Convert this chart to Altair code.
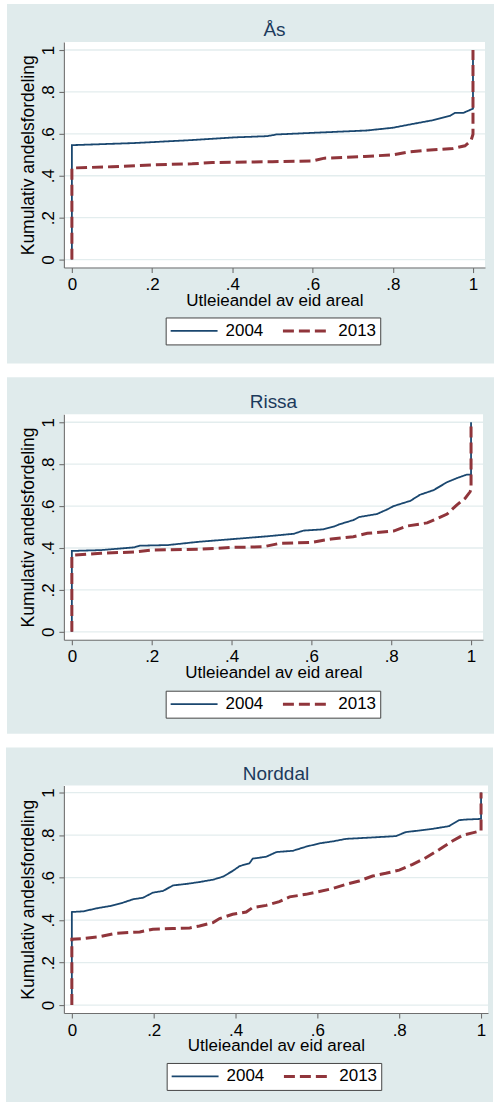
import altair as alt
import pandas as pd

FONT = "Liberation Sans"
BG = "#e0ebec"
GRID = "#e3edee"
AXIS = "#6f6f6f"
TITLE_COLOR = "#1c3a5c"

YEARS = ["2004", "2013"]
LINE_COLORS = ["#1a476f", "#90353b"]
LINE_WIDTHS = [1.8, 3.0]
LINE_DASHES = [[1, 0], [11, 5]]

TICKS = [0, 0.2, 0.4, 0.6, 0.8, 1]
TICK_TEXT = ["0", ".2", ".4", ".6", ".8", "1"]

X_TITLE = "Utleieandel av eid areal"
Y_TITLE = "Kumulativ andelsfordeling"

# --- Ås -------------------------------------------------------------------
aas_x_2004 = [0, 0, 0.155, 0.296, 0.404, 0.487, 0.51, 0.603, 0.735, 0.80, 0.852,
              0.90, 0.943, 0.955, 0.976, 1.0, 1.0]
aas_y_2004 = [0, 0.546, 0.556, 0.570, 0.583, 0.589, 0.597, 0.605, 0.616, 0.629, 0.648,
              0.665, 0.686, 0.70, 0.70, 0.72, 1.0]
aas_x_2013 = [0, 0, 0.1, 0.2, 0.3, 0.35, 0.5, 0.6, 0.63, 0.73, 0.8, 0.84, 0.88,
              0.95, 0.98, 0.995, 1.0, 1.0]
aas_y_2013 = [0, 0.437, 0.443, 0.452, 0.457, 0.463, 0.467, 0.471, 0.484, 0.492, 0.50,
              0.514, 0.521, 0.53, 0.543, 0.567, 0.598, 1.0]

# --- Rissa -----------------------------------------------------------------
rissa_x_2004 = [0, 0, 0.0725, 0.156, 0.17, 0.24, 0.32, 0.406, 0.49, 0.556, 0.58, 0.63,
                0.656, 0.67, 0.705, 0.72, 0.764, 0.79, 0.806, 0.848, 0.872, 0.906,
                0.94, 0.964, 0.989, 1.0, 1.0]
rissa_y_2004 = [0, 0.386, 0.39, 0.403, 0.411, 0.414, 0.43, 0.443, 0.456, 0.468, 0.483,
                0.489, 0.502, 0.513, 0.533, 0.548, 0.562, 0.584, 0.60, 0.625, 0.654,
                0.676, 0.714, 0.733, 0.75, 0.75, 1.0]
rissa_x_2013 = [0, 0, 0.0725, 0.156, 0.2, 0.32, 0.406, 0.48, 0.52, 0.6, 0.65, 0.705,
                0.74, 0.806, 0.84, 0.89, 0.906, 0.94, 0.964, 0.985, 0.9975, 1.0, 1.0]
rissa_y_2013 = [0, 0.365, 0.375, 0.381, 0.39, 0.394, 0.403, 0.406, 0.422, 0.427, 0.443,
                0.454, 0.47, 0.481, 0.505, 0.52, 0.533, 0.562, 0.605, 0.637, 0.668,
                0.68, 1.0]

# --- Norddal ---------------------------------------------------------------
norddal_x_2004 = [0, 0, 0.028, 0.06, 0.093, 0.125, 0.15, 0.174, 0.198, 0.223, 0.247,
                  0.28, 0.312, 0.345, 0.369, 0.393, 0.41, 0.434, 0.442, 0.475, 0.5,
                  0.54, 0.572, 0.605, 0.637, 0.67, 0.719, 0.792, 0.816, 0.857, 0.881,
                  0.922, 0.946, 0.963, 1.0, 1.0]
norddal_y_2004 = [0, 0.438, 0.441, 0.455, 0.466, 0.482, 0.498, 0.505, 0.529, 0.537,
                  0.563, 0.57, 0.579, 0.59, 0.604, 0.631, 0.654, 0.667, 0.689, 0.698,
                  0.72, 0.726, 0.745, 0.761, 0.77, 0.782, 0.787, 0.795, 0.814, 0.823,
                  0.829, 0.842, 0.87, 0.873, 0.876, 1.0]
norddal_x_2013 = [0, 0, 0.028, 0.068, 0.109, 0.166, 0.198, 0.247, 0.288, 0.312, 0.345,
                  0.361, 0.393, 0.426, 0.442, 0.475, 0.507, 0.532, 0.572, 0.605, 0.637,
                  0.67, 0.702, 0.735, 0.767, 0.8, 0.833, 0.865, 0.898, 0.93, 0.954,
                  0.979, 0.995, 1.0, 1.0]
norddal_y_2013 = [0, 0.31, 0.313, 0.322, 0.338, 0.344, 0.357, 0.36, 0.363, 0.372,
                  0.388, 0.407, 0.427, 0.438, 0.459, 0.469, 0.487, 0.509, 0.521, 0.534,
                  0.548, 0.568, 0.584, 0.607, 0.62, 0.635, 0.662, 0.693, 0.732, 0.772,
                  0.798, 0.81, 0.818, 0.82, 1.0]

# tick labels in Stata style: "0", ".2", ..., "1"
LABEL_EXPR = " : ".join(
    f"datum.value == {v} ? '{t}'" for v, t in zip(TICKS, TICK_TEXT)
) + " : ''"


def curve_frame(series):
    rows = []
    for year, (xs, ys) in zip(YEARS, series):
        for i, (x, y) in enumerate(zip(xs, ys)):
            rows.append({"x": x, "y": y, "year": year, "i": i})
    return pd.DataFrame(rows)


def panel(name, series, w, h, xdom, ydom, frame, legend_pos):
    # frame = (left, right, top, bottom) extent of the grey panel around the plot
    x_enc = alt.X(
        "x:Q",
        scale=alt.Scale(domain=xdom, nice=False, zero=False),
        axis=alt.Axis(
            values=TICKS, labelExpr=LABEL_EXPR, grid=False, zindex=1,
            domainColor=AXIS, tickColor=AXIS, tickSize=5, domainWidth=1.1, tickWidth=1.1,
            labelFont=FONT, labelFontSize=17, labelColor="black", labelPadding=4,
            labelFlush=False, labelOverlap=False,
            title=X_TITLE, titleFont=FONT, titleFontSize=17, titleFontWeight="normal",
            titleColor="black", titleBaseline="alphabetic", titleAlign="center",
            titleX=w / 2, titleY=38,
        ),
    )
    y_enc = alt.Y(
        "y:Q",
        scale=alt.Scale(domain=ydom, nice=False, zero=False),
        axis=alt.Axis(
            values=TICKS, labelExpr=LABEL_EXPR, grid=False, zindex=1,
            domainColor=AXIS, tickColor=AXIS, tickSize=5, domainWidth=1.1, tickWidth=1.1,
            labelFont=FONT, labelFontSize=17, labelColor="black", labelPadding=5,
            labelAngle=270, labelAlign="center", labelBaseline="alphabetic",
            labelFlush=False, labelOverlap=False,
            title=Y_TITLE, titleFont=FONT, titleFontSize=17.5, titleFontWeight="normal",
            titleColor="black", titleAngle=270, titleAlign="center",
            titleBaseline="alphabetic", titleX=-30, titleY=h / 2,
        ),
    )

    one = pd.DataFrame({"k": [0]})
    left, right, top, bottom = frame
    backdrop = alt.Chart(one).mark_rect(color=BG).encode(
        x=alt.value(left), x2=alt.value(right), y=alt.value(top), y2=alt.value(bottom)
    )
    plot_bg = alt.Chart(one).mark_rect(color="white").encode(
        x=alt.value(0), x2=alt.value(w), y=alt.value(0), y2=alt.value(h)
    )
    grid = alt.Chart(pd.DataFrame({"y": TICKS})).mark_rule(
        color=GRID, strokeWidth=1.3
    ).encode(y=y_enc)

    lines = alt.Chart(curve_frame(series)).mark_line(strokeCap="butt").encode(
        x=x_enc,
        y=y_enc,
        order=alt.Order("i:Q"),
        color=alt.Color(
            "year:N",
            scale=alt.Scale(domain=YEARS, range=LINE_COLORS),
            legend=alt.Legend(
                orient="none", legendX=legend_pos[0], legendY=legend_pos[1],
                direction="horizontal", title=None, symbolType="stroke",
                symbolSize=2209, clipHeight=19, labelFont=FONT, labelFontSize=17,
                labelColor="black", labelOffset=7, columnPadding=18, padding=4,
                fillColor="white", strokeColor="#444444", zindex=1,
            ),
        ),
        strokeDash=alt.StrokeDash(
            "year:N", scale=alt.Scale(domain=YEARS, range=LINE_DASHES)
        ),
        strokeWidth=alt.StrokeWidth(
            "year:N", scale=alt.Scale(domain=YEARS, range=LINE_WIDTHS)
        ),
    )

    title = alt.Chart(pd.DataFrame({"t": [name]})).mark_text(
        font=FONT, fontSize=19, color=TITLE_COLOR, align="center", baseline="alphabetic"
    ).encode(text="t:N", x=alt.value(w / 2), y=alt.value(-6))

    return alt.layer(backdrop, plot_bg, grid, lines, title).properties(width=w, height=h)


p1 = panel(
    "Ås",
    [(aas_x_2004, aas_y_2004), (aas_x_2013, aas_y_2013)],
    422, 226, [-0.02, 1.03], [-0.038, 1.038],
    (-57, 431, -38, 322), (102, 276),
)
p2 = panel(
    "Rissa",
    [(rissa_x_2004, rissa_y_2004), (rissa_x_2013, rissa_y_2013)],
    420, 226, [-0.02, 1.03], [-0.038, 1.038],
    (-57, 431, -37, 320), (102, 277),
)
p3 = panel(
    "Norddal",
    [(norddal_x_2004, norddal_y_2004), (norddal_x_2013, norddal_y_2013)],
    425, 228, [-0.0195, 1.017], [-0.0376, 1.033],
    (-58, 430, -38, 317), (103, 278),
)

chart = (
    alt.vconcat(p1, p2, p3, spacing=14)
    .resolve_scale(x="independent", y="independent", color="independent",
                   strokeDash="independent", strokeWidth="independent")
    .resolve_legend(color="independent", strokeDash="independent",
                    strokeWidth="independent")
    .configure(padding={"left": 6, "top": 3, "right": 0, "bottom": 0}, background="white")
    .configure_view(stroke=None)
)

chart.save("out.html", embed_options={"renderer": "svg", "actions": False})
